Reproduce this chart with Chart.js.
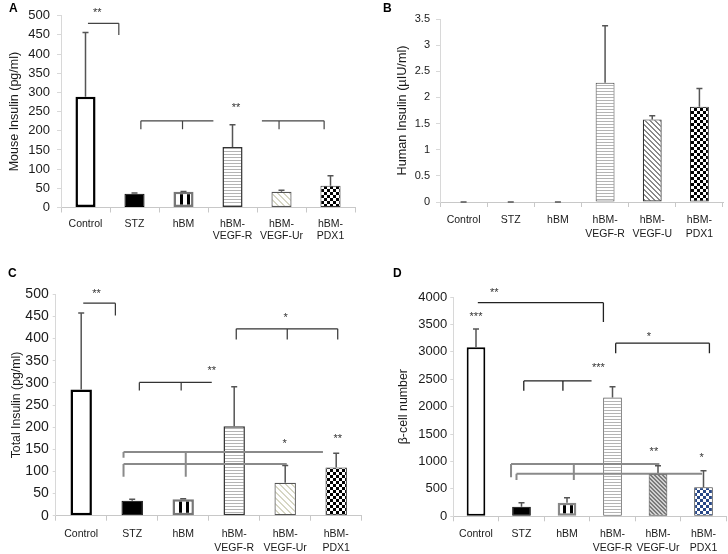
<!DOCTYPE html>
<html><head><meta charset="utf-8">
<script src="https://cdn.jsdelivr.net/npm/chart.js@4.4.1/dist/chart.umd.min.js"></script>
<style>
html,body{margin:0;padding:0;background:#fff;width:728px;height:554px;overflow:hidden;}
.p{position:absolute;width:364px;height:277px;}
.p canvas{display:block}
.lbl{position:absolute;font:bold 12px "Liberation Sans",Arial,sans-serif;color:#000;line-height:12px;}
</style></head><body>
<div class="p" style="left:0;top:0"><canvas id="cA" width="364" height="277"></canvas></div>
<div class="p" style="left:364px;top:0"><canvas id="cB" width="364" height="277"></canvas></div>
<div class="p" style="left:0;top:277px"><canvas id="cC" width="364" height="277"></canvas></div>
<div class="p" style="left:364px;top:277px"><canvas id="cD" width="364" height="277"></canvas></div>
<div class="lbl" style="left:9px;top:2px">A</div>
<div class="lbl" style="left:383px;top:2px">B</div>
<div class="lbl" style="left:8px;top:267px">C</div>
<div class="lbl" style="left:393px;top:267px">D</div>
<script>
// ---------- data ----------
const categories = ["Control", "STZ", "hBM", ["hBM-", "VEGF-R"], ["hBM-", "VEGF-Ur"], ["hBM-", "PDX1"]];
const categoriesB = ["Control", "STZ", "hBM", ["hBM-", "VEGF-R"], ["hBM-", "VEGF-U"], ["hBM-", "PDX1"]];

const mouseInsulin   = [289, 36, 41, 158, 41, 57];
const mouseInsulinSE = [167, 2, 1, 58, 4, 26];
const humanInsulin   = [0, 0, 0, 2.28, 1.58, 1.82];
const humanInsulinSE = [0, 0, 0, 1.09, 0.07, 0.35];
const totalInsulin   = [285, 34, 37, 202, 74.5, 109];
const totalInsulinSE = [173, 3, 1, 89, 39, 32];
const betaCells      = [3084, 175, 248, 2165, 772, 529];
const betaCellsSE    = [334, 73, 92, 200, 151, 303];

// significance brackets: [xFrom(category index), yFrom(value), xTo, yTo]
const bracketsA = [[0.05,480,0.68,480],[0.68,480,0.68,450],
  [1.13,226,2.61,226],[1.13,226,1.13,204],[1.98,226,1.98,204],
  [3.60,226,4.87,226],[3.95,226,3.95,204],[4.87,226,4.87,204]];
const starsA = [[0.24,517,"**"],[3.07,268,"**"]];

const bracketsC = [[0.04,480,0.67,480],[0.67,480,0.67,452],
  [1.14,301,2.56,301],[1.14,301,1.14,283],[1.96,301,1.96,283],
  [3.04,422,5.03,422],[3.04,422,3.04,398],[4.04,422,4.04,398],[5.03,422,5.03,398]];
const linesC = [[0.83,144,4.74,144],[0.83,117,4.03,117],[0.83,144,0.83,131],[0.83,117,0.83,88],[2.05,144,2.05,88]];
const starsC = [[0.30,509,"**"],[2.56,334,"**"],[4.01,455,"*"],[3.99,170,"*"],[5.03,181,"**"]];

const bracketsD = [[0.04,3897,2.80,3897],[2.80,3897,2.80,3545],
  [3.07,3157,5.13,3157],[3.07,3157,3.07,2975],[5.13,3157,5.13,2975],
  [1.05,2469,2.54,2469],[1.05,2469,1.05,2292],[1.91,2469,1.91,2292]];
const linesD = [[0.77,954,4.03,954],[0.89,778,4.97,778],[0.77,954,0.77,713],[0.89,778,0.89,662],[2.15,954,2.15,662]];
const starsD = [[0.40,4130,"**"],[0,3690,"***"],[3.80,3340,"*"],[2.69,2761,"***"],[3.91,1234,"**"],[4.96,1131,"*"]];

// ---------- patterns ----------
const F = '"Liberation Sans", Arial, sans-serif';
function pat(w, h, draw) {
  const c = document.createElement('canvas'); c.width = w; c.height = h;
  const x = c.getContext('2d'); draw(x); return x.createPattern(c, 'repeat');
}
function vstripe() { return pat(7, 7, x => { x.fillStyle = '#fff'; x.fillRect(0,0,7,7); x.fillStyle = '#000'; x.fillRect(0,0,3,7); }); }
function hstripe(col) { return pat(4, 3, x => { x.fillStyle = '#fff'; x.fillRect(0,0,4,3); x.fillStyle = col; x.fillRect(0,1,4,1); }); }
function diag(n, bg, fg) { return pat(n, n, x => { x.fillStyle = bg; x.fillRect(0,0,n,n); x.fillStyle = fg;
  for (let i = 0; i < n; i++) { x.fillRect(i, i, 1, 1); x.fillRect((i+1)%n, i, 1, 1); } }); }
function check(s, col) { return pat(2*s, 2*s, x => { x.fillStyle = '#fff'; x.fillRect(0,0,2*s,2*s); x.fillStyle = col; x.fillRect(0,0,s,s); x.fillRect(s,s,s,s); }); }

// ---------- annotation plugin ----------
const annot = {
  id: 'annot',
  beforeDatasetsDraw(chart) {
    const o = chart.options.plugins.annot;
    if (o.stripe && o.stripe.setTransform) {
      const el = chart.getDatasetMeta(0).data[2];
      o.stripe.setTransform(new DOMMatrix([1,0,0,1,Math.round(el.x) - 4, 0]));
    }
  },
  afterDatasetsDraw(chart) {
    const o = chart.options.plugins.annot;
    const ctx = chart.ctx, xs = chart.scales.x, ys = chart.scales.y;
    const vals = chart.data.datasets[0].data;
    ctx.save();
    ctx.lineCap = 'butt';
    ctx.strokeStyle = o.errColor; ctx.lineWidth = 1.5;
    o.err.forEach((e, i) => {
      const x = xs.getPixelForValue(i), y0 = ys.getPixelForValue(vals[i]), y1 = ys.getPixelForValue(vals[i] + e);
      ctx.beginPath(); ctx.moveTo(x, y0); ctx.lineTo(x, y1); ctx.moveTo(x - 3, y1); ctx.lineTo(x + 3, y1); ctx.stroke();
    });
    (o.groups || []).forEach(g => {
      ctx.strokeStyle = g.color; ctx.lineWidth = g.width; ctx.beginPath();
      g.segs.forEach(s => {
        ctx.moveTo(xs.getPixelForValue(s[0]), ys.getPixelForValue(s[1]));
        ctx.lineTo(xs.getPixelForValue(s[2]), ys.getPixelForValue(s[3]));
      });
      ctx.stroke();
    });
    ctx.fillStyle = '#333'; ctx.font = '11px ' + F; ctx.textAlign = 'center'; ctx.textBaseline = 'alphabetic';
    (o.stars || []).forEach(s => ctx.fillText(s[2], xs.getPixelForValue(s[0]), ys.getPixelForValue(s[1]) + 6.5));
    ctx.restore();
  }
};

function makeChart(id, c) {
  return new Chart(document.getElementById(id), {
    type: 'bar',
    data: { labels: c.labels, datasets: [{ data: c.values, backgroundColor: c.fills, borderColor: c.borders,
      borderWidth: c.bw, borderSkipped: false, barPercentage: c.barPct, categoryPercentage: 1 }] },
    options: {
      responsive: false, animation: false, events: [],
      layout: { padding: { left: 0, top: c.top, right: c.right, bottom: 0 } },
      plugins: { legend: { display: false }, tooltip: { enabled: false },
        annot: { err: c.err, errColor: '#555', groups: c.groups, stars: c.stars, stripe: c.fills[2] } },
      scales: {
        x: { grid: { display: true, drawOnChartArea: false, drawTicks: true, tickLength: 5, color: '#c8c8c8', offset: true },
             border: { color: '#c8c8c8', width: 1 },
             ticks: { color: '#1a1a1a', font: { family: F, size: 10.5, lineHeight: c.xlh }, padding: c.xpad, maxRotation: 0, autoSkip: false },
             afterFit(s) { s.height = c.xh; } },
        y: { min: 0, max: c.max,
             ticks: { stepSize: c.step, color: '#1a1a1a', font: { family: F, size: c.yfs }, padding: c.ypad,
                      callback: v => String(Math.round(v * 100) / 100) },
             grid: { display: true, drawOnChartArea: false, tickLength: c.ytl, color: '#d8d8d8' },
             border: { color: '#d8d8d8' },
             title: { display: true, text: c.title, color: '#1a1a1a', font: { family: F, size: c.tfs, lineHeight: 1.2 }, padding: { top: c.tpad, bottom: 0 } },
             afterFit(s) { s.width = c.yw; } }
      }
    },
    plugins: [annot]
  });
}

makeChart('cA', {
  labels: categories, values: mouseInsulin, err: mouseInsulinSE,
  fills: ['#fff', '#000', vstripe(), hstripe('#b4b4b4'), diag(6, '#fff', '#d6d6c4'), check(3, '#000')],
  borders: ['#000', '#000', '#777', '#333', '#555', '#333'], bw: [2.5, 1, 2.5, 1.5, 1.2, 1],
  barPct: 0.41, top: 15.7, right: 9, yw: 61, xh: 69.5, max: 500, step: 50, yfs: 13, ypad: 7, ytl: 4,
  title: 'Mouse Insulin (pg/ml)', tfs: 12.5, tpad: 7.5, xlh: 1.2, xpad: 5.2,
  groups: [{ color: '#444', width: 1.2, segs: bracketsA }], stars: starsA
});

makeChart('cB', {
  labels: categoriesB, values: humanInsulin, err: humanInsulinSE,
  fills: ['#fff', '#000', vstripe(), hstripe('#b4b4b4'), diag(5, '#fff', '#8a8a8a'), check(3, '#000')],
  borders: ['#000', '#000', '#777', '#444', '#333', '#222'], bw: [1, 1, 1, 1, 1.2, 1],
  barPct: 0.4, top: 19, right: 5, yw: 76, xh: 75, max: 3.5, step: 0.5, yfs: 11, ypad: 6, ytl: 4,
  title: 'Human Insulin (µIU/ml)', tfs: 12.7, tpad: 30.4, xlh: 1.3, xpad: 6.2,
  groups: [], stars: []
});

makeChart('cC', {
  labels: categories, values: totalInsulin, err: totalInsulinSE,
  fills: ['#fff', '#000', vstripe(), hstripe('#b4b4b4'), diag(6, '#fff', '#d6d6c4'), check(3, '#000')],
  borders: ['#000', '#000', '#777', '#333', '#555', '#333'], bw: [2.5, 1, 2.5, 1.5, 1.2, 1],
  barPct: 0.42, top: 17.3, right: 2.3, yw: 55.7, xh: 38.3, max: 500, step: 50, yfs: 14, ypad: 4, ytl: 3,
  title: 'Total Insulin (pg/ml)', tfs: 12.3, tpad: 9.6, xlh: 1.33, xpad: 6.3,
  groups: [{ color: '#333', width: 1.2, segs: bracketsC }, { color: '#8a8a8a', width: 2, segs: linesC }], stars: starsC
});

makeChart('cD', {
  labels: categories, values: betaCells, err: betaCellsSE,
  fills: ['#fff', '#000', vstripe(), hstripe('#b4b4b4'), diag(4, '#d0d0d0', '#7a7a7a'), check(3, '#284887')],
  borders: ['#000', '#000', '#888', '#555', '#444', '#444'], bw: [2, 1, 2.5, 1, 1, 1],
  barPct: 0.41, top: 20, right: 1.75, yw: 89.25, xh: 37.7, max: 4000, step: 500, yfs: 13, ypad: 3, ytl: 3,
  title: 'β-cell number', tfs: 12.4, tpad: 32.5, xlh: 1.33, xpad: 5.6,
  groups: [{ color: '#222', width: 1.3, segs: bracketsD }, { color: '#8a8a8a', width: 2, segs: linesD }], stars: starsD
});
</script>
</body></html>
